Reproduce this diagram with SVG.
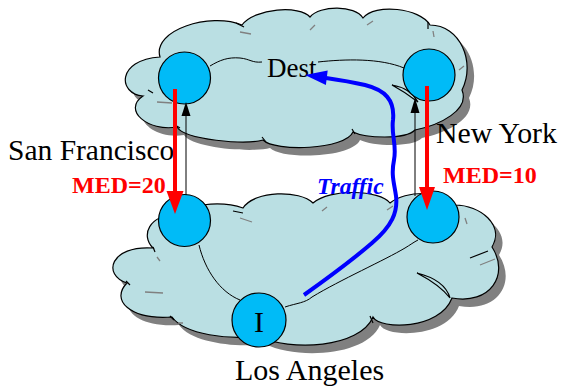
<svg xmlns="http://www.w3.org/2000/svg" width="562" height="388" viewBox="0 0 562 388">
  <style>
    .cloud { fill: #BADFE3; stroke: #000; stroke-width: 1.2; }
    .shadow { fill: #808080; stroke: none; }
    .inner { fill: none; stroke: #000; stroke-width: 1; }
    .tick { fill: none; stroke: #808080; stroke-width: 1.3; }
    .btick { fill: none; stroke: #000; stroke-width: 1.2; }
    .router { fill: #00BBF7; stroke: #000; stroke-width: 1.2; }
    .lbl { font-family: "Liberation Serif", "Times New Roman", serif; fill: #000; }
    .med { font-family: "Liberation Serif", "Times New Roman", serif; font-weight: bold; font-size: 24px; fill: #FF0000; }
    .red { stroke: #FF0000; stroke-width: 4; fill: none; }
    .blk { stroke: #000; stroke-width: 1; fill: none; }
  </style>
  <defs>
    <path id="topCloud" d="M 143,96 C 118,94 116,60 160,57 C 152,30 210,12 242,25 C 255,8 300,5 310,17 C 320,5 355,5 363,18 C 375,3 420,8 430,25 C 460,25 476,62 462,90 C 470,110 440,125 415,130 C 405,140 365,138 353,132 C 345,150 275,152 263,140 C 245,145 185,140 177,127 C 148,132 122,110 143,96 Z"/>
    <path id="botCloud" d="M 153,248 C 110,245 102,275 127,283 C 110,300 130,320 172,317 C 185,335 230,340 258,336 C 290,352 360,348 373,317 C 380,330 440,330 452,298 C 490,305 510,275 492,247 C 505,225 480,205 455,205 C 445,190 405,190 390,203 C 380,190 330,188 313,203 C 300,190 255,190 243,208 C 220,200 185,205 175,215 C 150,215 140,235 153,248 Z"/>
  </defs>

  <!-- upper network cloud -->
  <g id="cloud-top">
    <use href="#topCloud" class="shadow" transform="translate(7,8)"/>
    <use href="#topCloud" class="cloud"/>
    <path class="cloud" d="M 392,85 Q 410,88 418,102 Q 405,92 392,85 Z"/>
    <path class="tick" d="M 240,32 L 251,34 M 310,30 L 315,25 M 367,25 L 373,21 M 433,31 L 434,37 M 459,70 L 464,66 M 157,102 L 172,103"/>
    <path class="btick" d="M 236,23 L 244,27 M 428,22 L 428,29 M 148,90 L 153,93 M 175,125 L 180,128 M 262,137 L 266,142 M 352,129 L 355,134"/>
  </g>

  <!-- lower network cloud -->
  <g id="cloud-bottom">
    <use href="#botCloud" class="shadow" transform="translate(7,8)"/>
    <use href="#botCloud" class="cloud"/>
    <path class="cloud" d="M 417,273 Q 445,280 450,298 Q 440,285 417,273 Z"/>
    <path class="tick" d="M 240,218 L 252,222 M 322,211 L 327,207 M 387,210 L 393,206 M 465,218 L 467,224 M 480,265 L 495,259 M 157,257 L 160,261 M 145,292 L 163,293 M 178,323 L 183,323"/>
    <path class="btick" d="M 233,211 L 243,213 M 470,258 L 488,251 M 153,247 L 155,252 M 126,281 L 130,285 M 170,316 L 174,320 M 370,316 L 373,323"/>
  </g>

  <!-- links drawn inside the clouds -->
  <g id="links">
    <path class="inner" d="M 210,66 C 220,60 228,57 240,58 C 250,59 252,63 262,62"/>
    <path class="inner" d="M 318,62 C 345,59 380,58 404,68"/>
    <path class="inner" d="M 199,245 C 205,270 220,292 240,300"/>
    <path class="inner" d="M 285,307 C 297,303 305,303 312,297 C 340,280 385,260 405,248 C 410,245 414,242 418,240"/>
  </g>

  <!-- routers -->
  <g id="router-sf-top"><circle class="router" cx="184.5" cy="78" r="26"/></g>
  <g id="router-ny-top"><circle class="router" cx="429" cy="75" r="26"/></g>
  <g id="router-sf-bottom"><circle class="router" cx="184.5" cy="220.5" r="26"/></g>
  <g id="router-ny-bottom"><circle class="router" cx="433" cy="217" r="26"/></g>
  <g id="router-la">
    <circle class="router" cx="259" cy="320" r="27"/>
    <text class="lbl" x="259" y="332" font-size="30" text-anchor="middle">I</text>
  </g>

  <!-- labels -->
  <g id="labels">
    <text class="lbl" x="267" y="77" font-size="27">Dest</text>
    <text class="lbl" x="8" y="160" font-size="29.5">San Francisco</text>
    <text class="lbl" x="436" y="143" font-size="29.8">New York</text>
    <text class="lbl" x="235" y="380" font-size="30">Los Angeles</text>
    <text class="med" x="72" y="193">MED=20</text>
    <text class="med" x="443" y="183">MED=10</text>
    <text x="317" y="194" font-family="Liberation Serif, Times New Roman, serif" font-weight="bold" font-style="italic" font-size="23.5" fill="#0000FF">Traffic</text>
  </g>

  <!-- connectors -->
  <g id="connectors">
    <!-- route announcements (upward) -->
    <line class="blk" x1="186" y1="195" x2="186" y2="114"/>
    <polygon points="186,102 181.5,116 190.5,116" fill="#000"/>
    <line class="blk" x1="415" y1="196" x2="415" y2="111"/>
    <polygon points="415,98 410.5,113 419.5,113" fill="#000"/>
    <!-- MED advertisements -->
    <line class="red" x1="175" y1="89" x2="175" y2="194"/>
    <polygon points="175,214 166.5,191 183.5,191" fill="#FF0000"/>
    <line class="red" x1="427" y1="86" x2="427" y2="190"/>
    <polygon points="427,210 419,187 435,187" fill="#FF0000"/>
    <!-- traffic path -->
    <path d="M 304,295 C 325,280 350,262 372,243 C 392,226 398,212 396,196 C 394,182 391,175 394,160 C 397,145 391,135 393,120 C 395,100 385,90 365,85 C 352,82 340,80 326,78" fill="none" stroke="#0000FF" stroke-width="4"/>
    <polygon points="305,75 327.7,70.5 325.9,85" fill="#0000FF"/>
  </g>
</svg>
